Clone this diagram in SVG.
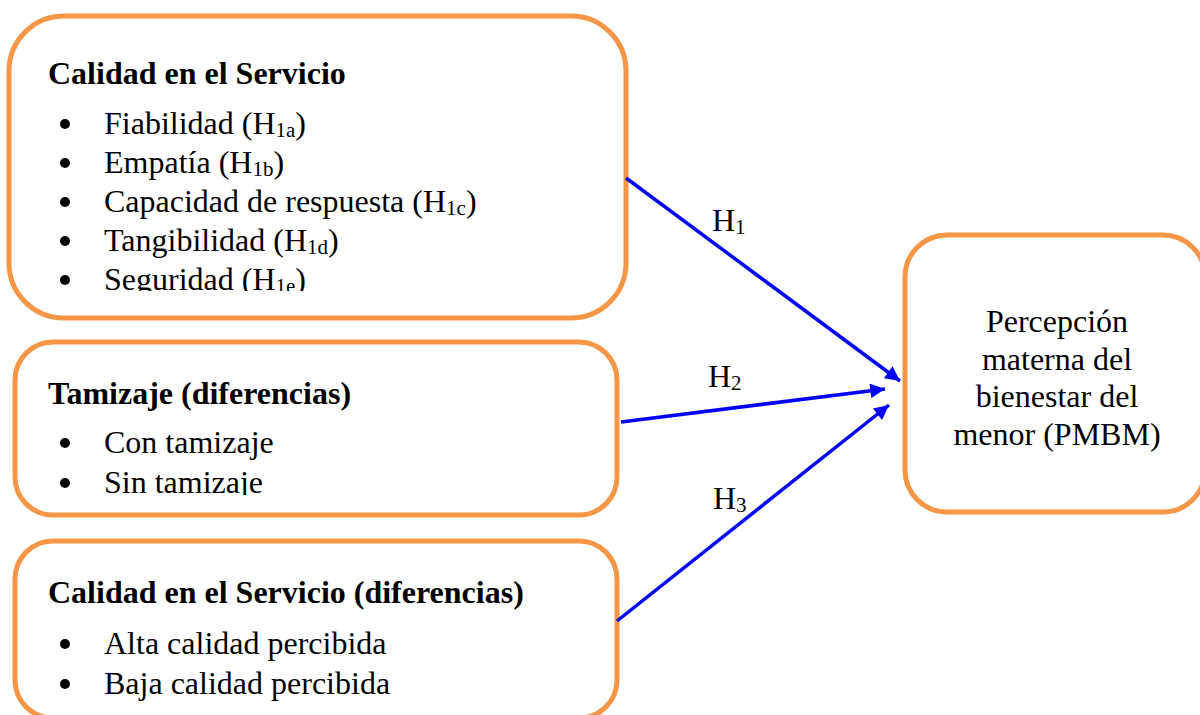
<svg xmlns="http://www.w3.org/2000/svg" width="1200" height="715" viewBox="0 0 1200 715">
  <style>
    .box { fill: #FFFFFF; stroke: #F79646; stroke-width: 5; }
    .t { font-family: "Liberation Serif", "Times New Roman", serif; font-size: 32px; fill: #000000; }
    .b { font-weight: bold; }
    .sub { font-size: 21px; }
    .dot { fill: #000000; }
    .link { stroke: #0000FF; stroke-width: 3.5; fill: none; marker-end: url(#head); }
  </style>
  <defs>
    <marker id="head" viewBox="0 0 10 10" refX="10" refY="5" markerWidth="5" markerHeight="4.2" orient="auto" markerUnits="strokeWidth">
      <path d="M0,0 L10,5 L0,10 z" fill="#0000FF"/>
    </marker>
    <clipPath id="clip1"><rect x="0" y="0" width="640" height="291"/></clipPath>
    <clipPath id="clip2"><rect x="0" y="330" width="640" height="165"/></clipPath>
  </defs>
  <rect width="1200" height="715" fill="#FFFFFF"/>

  <!-- Calidad en el Servicio -->
  <g id="calidad-servicio">
    <rect class="box" x="9" y="16" width="617" height="302" rx="55" ry="55"/>
    <g clip-path="url(#clip1)">
      <text class="t b" x="48" y="84">Calidad en el Servicio</text>
      <circle class="dot" cx="65" cy="124" r="5"/>
      <text class="t" x="104" y="134">Fiabilidad (H<tspan class="sub" dy="3">1a</tspan><tspan dy="-3">)</tspan></text>
      <circle class="dot" cx="65" cy="163" r="5"/>
      <text class="t" x="104" y="173">Empatía (H<tspan class="sub" dy="3">1b</tspan><tspan dy="-3">)</tspan></text>
      <circle class="dot" cx="65" cy="202" r="5"/>
      <text class="t" x="104" y="212">Capacidad de respuesta (H<tspan class="sub" dy="3">1c</tspan><tspan dy="-3">)</tspan></text>
      <circle class="dot" cx="65" cy="241" r="5"/>
      <text class="t" x="104" y="251">Tangibilidad (H<tspan class="sub" dy="3">1d</tspan><tspan dy="-3">)</tspan></text>
      <circle class="dot" cx="65" cy="280" r="5"/>
      <text class="t" x="104" y="290">Seguridad (H<tspan class="sub" dy="3">1e</tspan><tspan dy="-3">)</tspan></text>
    </g>
  </g>

  <!-- Tamizaje (diferencias) -->
  <g id="tamizaje">
    <rect class="box" x="15" y="342" width="602" height="173" rx="38" ry="38"/>
    <g clip-path="url(#clip2)">
      <text class="t b" x="48" y="404">Tamizaje (diferencias)</text>
      <circle class="dot" cx="65" cy="443" r="5"/>
      <text class="t" x="104" y="453">Con tamizaje</text>
      <circle class="dot" cx="65" cy="483" r="5"/>
      <text class="t" x="104" y="493">Sin tamizaje</text>
    </g>
  </g>

  <!-- Calidad en el Servicio (diferencias) -->
  <g id="calidad-diferencias">
    <rect class="box" x="15" y="541" width="602" height="177" rx="38" ry="38"/>
    <text class="t b" x="48" y="603">Calidad en el Servicio (diferencias)</text>
    <circle class="dot" cx="65" cy="644" r="5"/>
    <text class="t" x="104" y="654">Alta calidad percibida</text>
    <circle class="dot" cx="65" cy="684" r="5"/>
    <text class="t" x="104" y="694">Baja calidad percibida</text>
  </g>

  <!-- PMBM -->
  <g id="pmbm">
    <rect class="box" x="905" y="235" width="300" height="277" rx="42" ry="42"/>
    <text class="t" text-anchor="middle" x="1057" y="332">Percepción</text>
    <text class="t" text-anchor="middle" x="1057" y="370">materna del</text>
    <text class="t" text-anchor="middle" x="1057" y="407">bienestar del</text>
    <text class="t" text-anchor="middle" x="1057" y="445">menor (PMBM)</text>
  </g>

  <!-- Hypothesis links -->
  <g id="links">
    <line class="link" x1="626" y1="178" x2="900" y2="381"/>
    <line class="link" x1="621" y1="422" x2="885" y2="389"/>
    <line class="link" x1="617" y1="621" x2="889" y2="405"/>
    <text class="t" x="712" y="231">H<tspan class="sub" dy="3">1</tspan></text>
    <text class="t" x="708" y="387">H<tspan class="sub" dy="3">2</tspan></text>
    <text class="t" x="713" y="509">H<tspan class="sub" dy="3">3</tspan></text>
  </g>
</svg>
